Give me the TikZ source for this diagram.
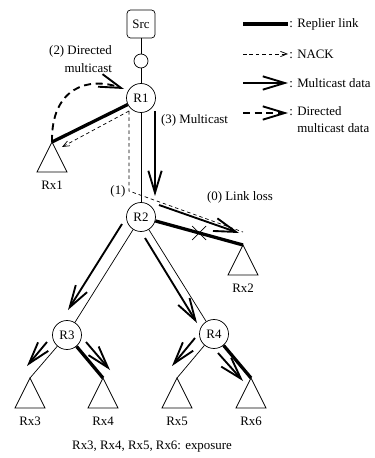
\documentclass[tikz,border=0pt]{standalone}
\usepackage{fontspec}
\setmainfont{Liberation Serif}
\usetikzlibrary{arrows.meta}

\begin{document}
\begin{tikzpicture}[x=0.03cm,y=-0.03cm,
    font=\fontsize{11}{15}\selectfont,
    router/.style={circle,draw,line width=0.6pt,minimum size=0.87cm,inner sep=0pt},
    link/.style={line width=0.6pt},
    replier/.style={line width=2.8pt},
    nack/.style={line width=0.6pt,dash pattern=on 3pt off 2.5pt},
    nackarr/.style={nack,-{Straight Barb[length=0.2cm,width=0.16cm]}},
    mcast/.style={line width=1.6pt,-{Straight Barb[length=0.66cm,width=0.4cm]}},
    dmcast/.style={mcast,dash pattern=on 6pt off 4pt},
    recv/.pic={
      \coordinate (-apex) at (0,0);
      \draw[link] (0,0) -- (-15,30) -- (15,30) -- cycle;
      \node (-lbl) at (0,43) {#1};
    }]
  \useasboundingbox (0,0) rectangle (375,458);

  % tree
  \node[draw,line width=0.6pt,rounded corners=3pt,minimum size=0.84cm,inner sep=0pt] (src) at (141,24) {Src};
  \node[router,minimum size=0.42cm] (hub) at (141,61) {};
  \node[router] (r1) at (141,98) {R1};
  \node[router] (r2) at (141,217) {R2};
  \node[router] (r3) at (67,335) {R3};
  \node[router] (r4) at (214,334) {R4};
  \pic (rx1) at (52,142) {recv=Rx1};
  \pic (rx2) at (243,245) {recv=Rx2};
  \pic (rx3) at (30,378) {recv=Rx3};
  \pic (rx4) at (103,378) {recv=Rx4};
  \pic (rx5) at (177,378) {recv=Rx5};
  \pic (rx6) at (251,378) {recv=Rx6};

  \draw[link] (src) -- (hub) -- (r1) -- (r2);
  \draw[link] (r2) -- (r3);
  \draw[link] (r2) -- (r4);
  \draw[link] (r3) -- (rx3-apex);
  \draw[link] (r4) -- (rx5-apex);

  % replier links
  \draw[replier] (r1) -- (rx1-apex);
  \draw[replier] (r2) -- (rx2-apex);
  \draw[replier] (r3) -- (rx4-apex);
  \draw[replier] (r4) -- (rx6-apex);

  % loss on the R2-Rx2 link
  \draw[link] (199,233) ++(-7,7) -- ++(14,-14);
  \draw[link] (199,233) ++(-7,-7) -- ++(14,14);

  % NACKs
  \coordinate (nk) at (129,111);
  \coordinate (nk1) at (62,147);
  \coordinate (nk2) at (129,191);
  \coordinate (nk3) at (243,232);
  \draw[nackarr] (nk) -- (nk1);
  \draw[nack] (nk) -- (nk2) -- (nk3);

  % multicast data
  \coordinate (m1a) at (155,111);  \coordinate (m1b) at (155,196);
  \coordinate (m2a) at (159,205);  \coordinate (m2b) at (239,233);
  \coordinate (m3a) at (122,224);  \coordinate (m3b) at (68,310);
  \coordinate (m4a) at (145,238);  \coordinate (m4b) at (197,323);
  \coordinate (m5a) at (47,342);   \coordinate (m5b) at (27,366);
  \coordinate (m6a) at (86,342);   \coordinate (m6b) at (110,370);
  \coordinate (m7a) at (195,338);  \coordinate (m7b) at (172,366);
  \coordinate (m8a) at (218,353);  \coordinate (m8b) at (243,381);
  \draw[mcast] (m1a) -- (m1b);
  \draw[mcast] (m2a) -- (m2b);
  \draw[mcast] (m3a) -- (m3b);
  \draw[mcast] (m4a) -- (m4b);
  \draw[mcast] (m5a) -- (m5b);
  \draw[mcast] (m6a) -- (m6b);
  \draw[mcast] (m7a) -- (m7b);
  \draw[mcast] (m8a) -- (m8b);

  % directed multicast back to R1
  \coordinate (dm) at (124,89);
  \draw[dmcast] (rx1-apex) .. controls (51,88) and (88,76) .. (dm);

  % step labels
  \node[align=right,anchor=east] (l2) at (116,59) {(2) Directed\\multicast};
  \node[anchor=west] (l3) at (157,120) {(3) Multicast};
  \node (l1) at (118,191) {(1)};
  \node (l0) at (240,197) {(0) Link loss};
  \node (cap) at (152,447) {Rx3, Rx4, Rx5, Rx6: exposure};

  % legend
  \coordinate (k1a) at (243,24);   \coordinate (k1b) at (288,24);
  \coordinate (k2a) at (243,54);   \coordinate (k2b) at (288,54);
  \coordinate (k3a) at (243,83);   \coordinate (k3b) at (288,83);
  \coordinate (k4a) at (243,113);  \coordinate (k4b) at (288,113);
  \draw[replier] (k1a) -- (k1b);
  \draw[nackarr] (k2a) -- (k2b);
  \draw[mcast] (k3a) -- (k3b);
  \draw[dmcast] (k4a) -- (k4b);
  \node[anchor=west,inner sep=1pt] (t1) at (k1b) {: Replier link};
  \node[anchor=west,inner sep=1pt] (t2) at (k2b) {: NACK};
  \node[anchor=west,inner sep=1pt] (t3) at (k3b) {: Multicast data};
  \node[anchor=north west,inner sep=1pt,align=left] (t4) at (288,105) {: Directed\\\hphantom{: }multicast data};
\end{tikzpicture}
\end{document}
